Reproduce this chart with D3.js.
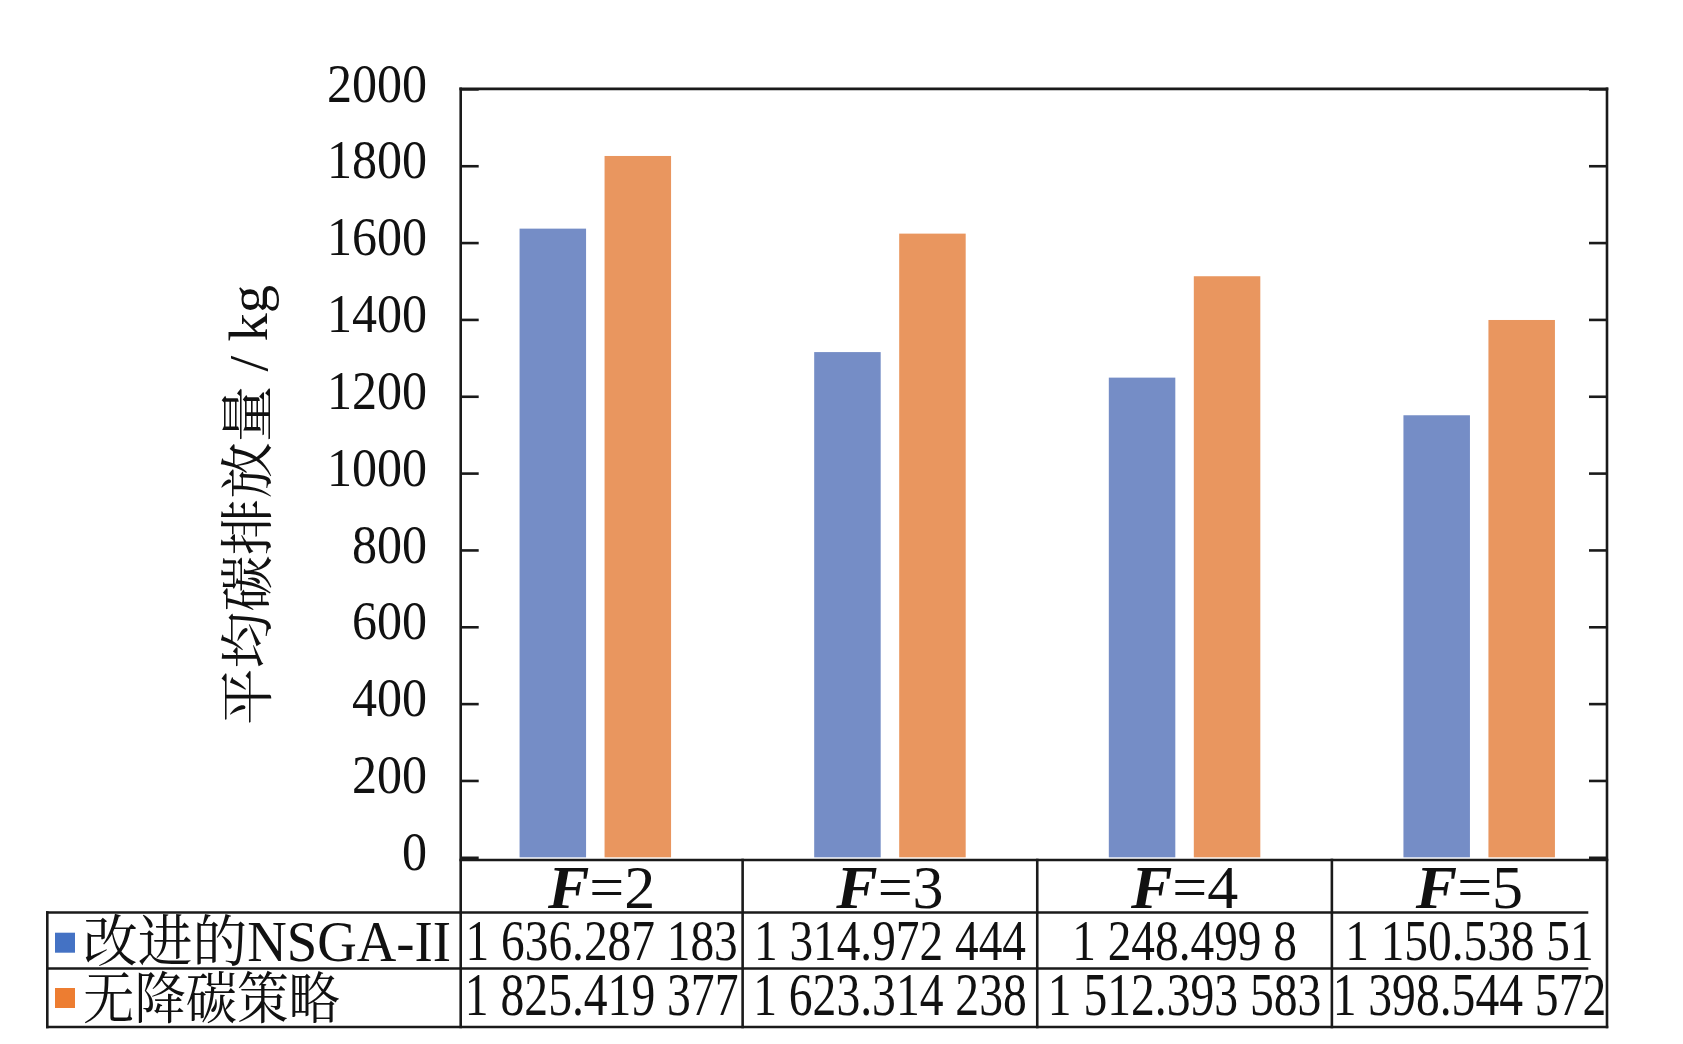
<!DOCTYPE html>
<html><head><meta charset="utf-8">
<script src="https://cdn.jsdelivr.net/npm/d3@7"></script>
<style>body{margin:0;background:#fff} svg{display:block}</style>
</head><body>
<svg id="chart" width="1683" height="1044"></svg>
<script>
// ---------------- data ----------------
const categories = ["F=2", "F=3", "F=4", "F=5"];
const categoryNums = ["2", "3", "4", "5"];
const seriesNames = ["改进的NSGA-II", "无降碳策略"];
const improvedValues = [1636.287183, 1314.972444, 1248.4998, 1150.53851];
const noReductionValues = [1825.419377, 1623.314238, 1512.393583, 1398.544572];
const improvedLabels = ["1 636.287 183", "1 314.972 444", "1 248.499 8", "1 150.538 51"];
const noReductionLabels = ["1 825.419 377", "1 623.314 238", "1 512.393 583", "1 398.544 572"];
const yTickValues = [0, 200, 400, 600, 800, 1000, 1200, 1400, 1600, 1800, 2000];
const yTitle = "平均碳排放量 / kg";
const barColors = ["#758dc6", "#e9965f"];
const legendColors = ["#4472c4", "#ed7d31"];

// ---------------- layout ----------------
const svg = d3.select("#chart");
const P = {left: 460.7, right: 1607, top: 88.9, zero: 857.3};
const axisLineY = 860, headerBottom = 912.5, rowSep = 968.5, tableBottom = 1027, tableLeft = 47.3;
const ink = "#1a1a1a", sw = 2.6;
const serif = "'Liberation Serif','Times New Roman',serif";
const mixed = "'Liberation Serif','Noto Serif CJK SC','Noto Sans CJK SC',serif";

const y = d3.scaleLinear().domain([0, 2000]).range([P.zero, P.top]);
const x0 = d3.scaleBand().domain(categories).range([448, 1626.5]);
const x1 = d3.scaleBand().domain(seriesNames)
  .range([x0.bandwidth() / 2 - 75.75, x0.bandwidth() / 2 + 75.75]).paddingInner(0.2176);

function condense(sel, f) {
  sel.each(function () {
    const L = this.getComputedTextLength();
    d3.select(this).attr("textLength", L * f).attr("lengthAdjust", "spacingAndGlyphs");
  });
}

// bars
const rows = categories.map((c, i) => ({c, vals: [improvedValues[i], noReductionValues[i]]}));
const g = svg.append("g");
g.selectAll("g.grp").data(rows).join("g")
  .attr("transform", d => `translate(${x0(d.c)},0)`)
  .selectAll("rect").data(d => d.vals.map((v, j) => ({s: seriesNames[j], v, j})))
  .join("rect")
  .attr("x", d => x1(d.s)).attr("width", x1.bandwidth())
  .attr("y", d => y(d.v)).attr("height", d => y(0) - y(d.v))
  .attr("fill", d => barColors[d.j]);

// left axis
const ax = svg.append("g").attr("transform", `translate(${P.left},0)`)
  .call(d3.axisLeft(y).tickValues(yTickValues).tickSize(-18).tickPadding(33.7).tickFormat(d3.format("d")));
ax.select(".domain").remove();
ax.selectAll(".tick line").attr("stroke", ink).attr("stroke-width", sw);
ax.selectAll(".tick text").attr("font-family", serif).attr("font-size", 55).attr("fill", "#111").attr("y", -5.5);
condense(ax.selectAll(".tick text"), 0.91);

// right axis ticks
const axr = svg.append("g").attr("transform", `translate(${P.right},0)`)
  .call(d3.axisRight(y).tickValues(yTickValues).tickSize(-18).tickFormat(""));
axr.select(".domain").remove();
axr.selectAll(".tick line").attr("stroke", ink).attr("stroke-width", sw);

// frame + table lines
const edges = [x0.range()[0], ...categories.slice(1).map(c => x0(c)), x0.range()[1]]
  .map(v => Math.max(P.left, Math.min(P.right, v)));
const lines = [
  [P.left, P.top, P.right, P.top],
  [P.left, P.top, P.left, tableBottom],
  [P.right, P.top, P.right, tableBottom],
  [P.left, axisLineY, P.right, axisLineY],
  [tableLeft, headerBottom, 1587, headerBottom],
  [tableLeft, rowSep, 1587, rowSep],
  [tableLeft, tableBottom, P.right, tableBottom],
  [tableLeft, headerBottom, tableLeft, tableBottom],
  ...edges.slice(1, -1).map(e => [e, axisLineY, e, tableBottom])
];
svg.append("g").selectAll("line").data(lines).join("line")
  .attr("x1", d => d[0]).attr("y1", d => d[1]).attr("x2", d => d[2]).attr("y2", d => d[3])
  .attr("stroke", ink).attr("stroke-width", sw).attr("stroke-linecap", "square");

const colCenter = i => (edges[i] + edges[i + 1]) / 2;

// header row  (F = n)
const hdr = svg.append("g").selectAll("text").data(categoryNums).join("text")
  .attr("x", (d, i) => colCenter(i)).attr("y", 908)
  .attr("text-anchor", "middle").attr("font-family", serif).attr("font-size", 62).attr("fill", "#111");
hdr.append("tspan").attr("font-weight", "bold").attr("font-style", "italic").text("F");
hdr.append("tspan").text(d => "=" + d);

// data rows
const r1 = svg.append("g").selectAll("text").data(improvedLabels).join("text")
  .attr("x", (d, i) => colCenter(i)).attr("y", 960).attr("text-anchor", "middle")
  .attr("font-family", serif).attr("font-size", 56).attr("fill", "#111").text(d => d);
condense(r1, 0.845);
const r2 = svg.append("g").selectAll("text").data(noReductionLabels).join("text")
  .attr("x", (d, i) => colCenter(i)).attr("y", 1015).attr("text-anchor", "middle")
  .attr("font-family", serif).attr("font-size", 61).attr("fill", "#111").text(d => d);
condense(r2, 0.78);

// legend cells
const legY = [932.7, 988];
svg.append("g").selectAll("rect").data(seriesNames).join("rect")
  .attr("x", 55).attr("y", (d, i) => legY[i]).attr("width", 20).attr("height", 20)
  .attr("fill", (d, i) => legendColors[i]);
const legBase = [961, 1018];
const legWidth = [368, 257];
svg.append("g").selectAll("text").data(seriesNames).join("text")
  .attr("x", 83).attr("y", (d, i) => legBase[i])
  .attr("font-family", mixed).attr("font-size", 56).attr("fill", "#111")
  .attr("textLength", (d, i) => legWidth[i]).attr("lengthAdjust", "spacingAndGlyphs")
  .text(d => d);

// y title
svg.append("text")
  .attr("transform", "translate(249,505) rotate(-90)")
  .attr("text-anchor", "middle").attr("dominant-baseline", "central")
  .attr("font-family", mixed).attr("font-size", 54).attr("fill", "#111")
  .attr("textLength", 440).attr("lengthAdjust", "spacingAndGlyphs")
  .text(yTitle);
</script>
</body></html>
